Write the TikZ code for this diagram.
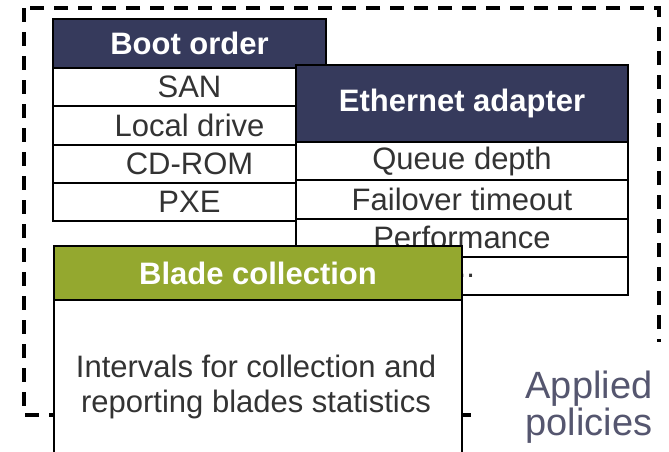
\documentclass[tikz,border=0pt]{standalone}
\usepackage{fontspec}
\setmainfont{Liberation Sans}
\definecolor{navy}{HTML}{363A5C}
\definecolor{olive}{HTML}{94A82F}
\definecolor{ink}{HTML}{333333}
\definecolor{slate}{HTML}{55566F}
\begin{document}
\begin{tikzpicture}[x=1pt,y=-1pt,
  frame/.style={draw=black, line width=2pt, outer sep=0pt, inner sep=0pt, anchor=north west},
  hdr/.style={frame, text=white, font=\fontsize{31}{34}\selectfont\bfseries},
  cell/.style={frame, fill=white, text=ink, font=\fontsize{31}{34}\selectfont},
  bootrow/.style={cell, minimum width=273pt, minimum height=38.25pt},
  ethrow/.style={cell, minimum width=332pt, minimum height=38.25pt}]
  \useasboundingbox (0,0) rectangle (669,451);
  \clip (0,0) rectangle (669,451);

  % outer dashed frame
  \draw[line width=3.2pt, dash pattern=on 14pt off 10pt] (24,8) rectangle (659,415);

  % boot order table
  \node[hdr, fill=navy, minimum width=273pt, minimum height=49pt] (boot) at (53,19) {Boot order};
  \node[bootrow] (san) at (boot.south west) {SAN};
  \node[bootrow] (local) at (san.south west) {Local drive};
  \node[bootrow] (cdrom) at (local.south west) {CD-ROM};
  \node[bootrow] (pxe) at (cdrom.south west) {PXE};

  % ethernet adapter table
  \node[hdr, fill=navy, minimum width=332pt, minimum height=77pt] (eth) at (296,65) {Ethernet adapter};
  \node[ethrow] (queue) at (eth.south west) {Queue depth};
  \node[ethrow] (failover) at (queue.south west) {Failover timeout};
  \node[ethrow] (perf) at (failover.south west) {Performance};
  \node[ethrow] (more) at (perf.south west) {...};

  % blade collection card
  \node[hdr, fill=olive, minimum width=408pt, minimum height=54pt] (blade) at (54,246) {Blade collection};
  \node[cell, minimum width=408pt, minimum height=156pt] (bladebody) at (blade.south west) {};
  \node[text=ink, align=center, font=\fontsize{31}{35}\selectfont] (interval) at (256,387)
    {Intervals for collection and\\reporting blades statistics};

  % caption
  \node[fill=white, minimum width=198pt, minimum height=110pt, anchor=north west] (cover) at (471,342) {};
  \node[text=slate, align=center, font=\fontsize{38}{34}\selectfont] (applied) at (589,407) {Applied\\policies};
\end{tikzpicture}
\end{document}
